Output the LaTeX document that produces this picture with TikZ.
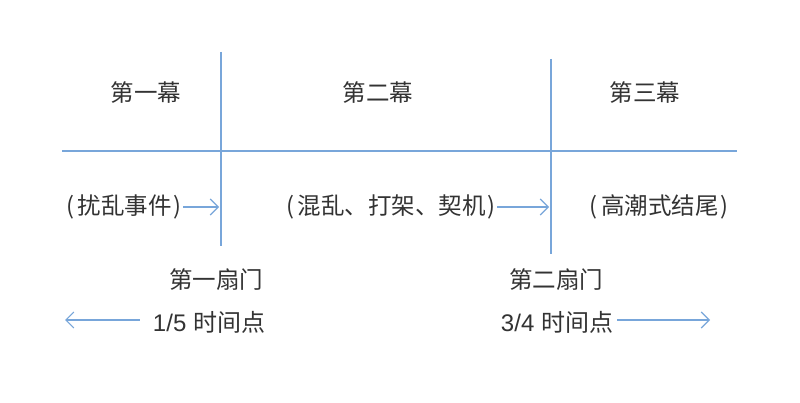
\documentclass[tikz,border=0pt]{standalone}
\usepackage{fontspec}
\setmainfont{Liberation Sans}
\newfontfamily\cjk{Noto Sans CJK SC}
\usetikzlibrary{arrows.meta}
\definecolor{lineblue}{HTML}{78A6DA}
\definecolor{txt}{HTML}{333333}
\newcommand{\lp}{(\hspace{4pt}}
\newcommand{\rp}{\hspace{2pt})}
\tikzset{
  grid line/.style={draw=lineblue, line width=1.3pt},
  conn/.style={draw=lineblue, line width=1.1pt, -{Straight Barb[length=8pt,width=16pt,line width=1.1pt]}},
  lbl/.style={text=txt, font=\cjk\fontsize{23.5}{28}\selectfont, inner sep=0pt},
}
\begin{document}
\begin{tikzpicture}[x=1pt,y=-1pt]
\useasboundingbox (0,0) rectangle (800,403);
\fill[white] (0,0) rectangle (800,403);
% grid
\coordinate (v1t) at (221,52);
\coordinate (v1b) at (221,246);
\coordinate (v2t) at (551,59);
\coordinate (v2b) at (551,254);
\coordinate (hl) at (62,151);
\coordinate (hr) at (737,151);
\draw[grid line] (v1t) -- (v1b);
\draw[grid line] (v2t) -- (v2b);
\draw[grid line] (hl) -- (hr);
% acts
\node[lbl] (a1) at (146,93) {第一幕};
\node[lbl] (a2) at (378,93) {第二幕};
\node[lbl] (a3) at (645,93) {第三幕};
% events
\node[lbl] (e1) at (124,207) {\lp 扰乱事件\rp};
\node[lbl] (e2) at (391,207) {\lp 混乱、打架、契机\rp};
\node[lbl] (e3) at (659,207) {\lp 高潮式结尾\rp};
\draw[conn, shorten <=1pt, shorten >=2pt] (e1.east) -- (e1.east -| v1t);
\draw[conn, shorten <=1pt, shorten >=2pt] (e2.east) -- (e2.east -| v2t);
% doors
\node[lbl] (d1) at (216,280) {第一扇门};
\node[lbl] (t1) at (209,322) {\fontsize{24}{28}\selectfont\rmfamily 1/5 \cjk 时间点};
\node[lbl] (d2) at (556,280) {第二扇门};
\node[lbl] (t2) at (557,322) {\fontsize{24}{28}\selectfont\rmfamily 3/4 \cjk 时间点};
\coordinate (l1) at (65,320);
\coordinate (r1) at (710,320);
\draw[conn, shorten <=13pt] (t1.west |- l1) -- (l1);
\draw[conn, shorten <=4pt] (t2.east |- r1) -- (r1);
\end{tikzpicture}
\end{document}
